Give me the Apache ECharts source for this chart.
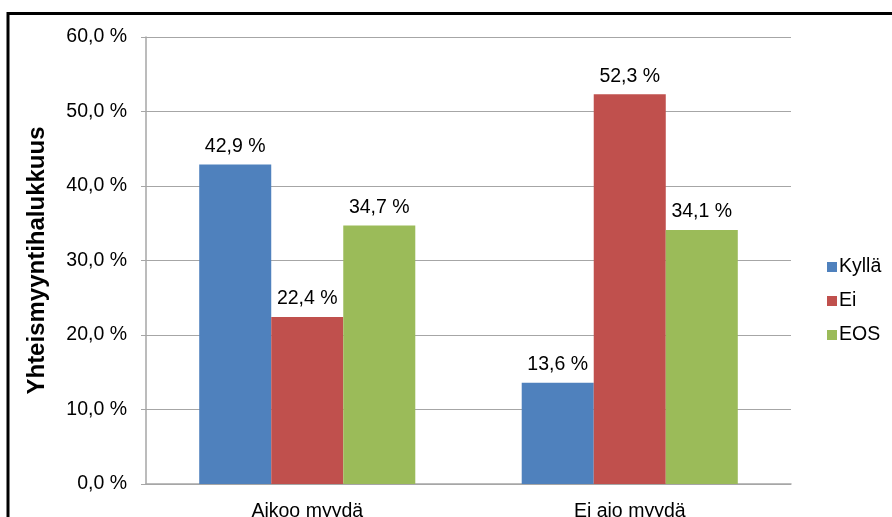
<!DOCTYPE html>
<html>
<head>
<meta charset="utf-8">
<script src="https://cdn.jsdelivr.net/npm/echarts@6/dist/echarts.min.js"></script>
<style>
  html, body { margin: 0; padding: 0; background: #fff; }
  #main { width: 892px; height: 517px; }
</style>
</head>
<body>
<div id="main"></div>
<script>
// data
var categories = ['Aikoo myydä', 'Ei aio myydä'];
var seriesNames = ['Kyllä', 'Ei', 'EOS'];
var kyllaValues = [42.9, 13.6];
var eiValues = [22.4, 52.3];
var eosValues = [34.7, 34.1];
var colors = ['#4f81bd', '#c0504d', '#9bbb59'];

var chart = echarts.init(document.getElementById('main'));

function pct(v) {
  return v.toFixed(1).replace('.', ',') + ' %';
}

function barSeries(name, values, color) {
  return {
    name: name,
    type: 'bar',
    data: values,
    barGap: '0%',
    barCategoryGap: '33%',
    itemStyle: { color: color },
    label: {
      show: true,
      position: 'top',
      distance: 8,
      color: '#000',
      fontSize: 19.5,
      formatter: function (p) { return pct(p.value); }
    }
  };
}

var option = {
  animation: false,
  textStyle: { fontFamily: 'Liberation Sans' },
  graphic: [{
    type: 'rect',
    shape: { x: 8, y: 13.5, width: 900, height: 520 },
    style: { fill: 'none', stroke: '#000', lineWidth: 3 }
  }],
  grid: {
    left: 146, right: 101, top: 37, bottom: 33,
    containLabel: false,
    outerBoundsMode: 'none'
  },
  legend: {
    orient: 'vertical',
    left: 822,
    top: 252,
    itemWidth: 10,
    itemHeight: 10,
    itemGap: 14,
    icon: 'rect',
    textStyle: { fontSize: 19.5, color: '#000', padding: [0, 0, 0, -3] },
    data: seriesNames
  },
  xAxis: {
    type: 'category',
    data: categories,
    axisLine: { lineStyle: { color: '#a6a6a6', width: 1.5 } },
    axisTick: { show: false },
    axisLabel: { color: '#000', fontSize: 19.5, margin: 18 }
  },
  yAxis: {
    type: 'value',
    min: 0,
    max: 60,
    interval: 10,
    name: 'Yhteismyyntihalukkuus',
    nameLocation: 'middle',
    nameGap: 97,
    nameTextStyle: { fontSize: 24, fontWeight: 'bold', color: '#000' },
    axisLine: { show: true, lineStyle: { color: '#a6a6a6', width: 1.5 } },
    axisTick: { show: true, length: 5, lineStyle: { color: '#a6a6a6' } },
    axisLabel: {
      color: '#000',
      fontSize: 19.5,
      margin: 19,
      formatter: function (v) { return pct(v); }
    },
    splitLine: { lineStyle: { color: '#a6a6a6', width: 1.2 } }
  },
  series: [
    barSeries(seriesNames[0], kyllaValues, colors[0]),
    barSeries(seriesNames[1], eiValues, colors[1]),
    barSeries(seriesNames[2], eosValues, colors[2])
  ]
};

chart.setOption(option);
</script>
</body>
</html>
